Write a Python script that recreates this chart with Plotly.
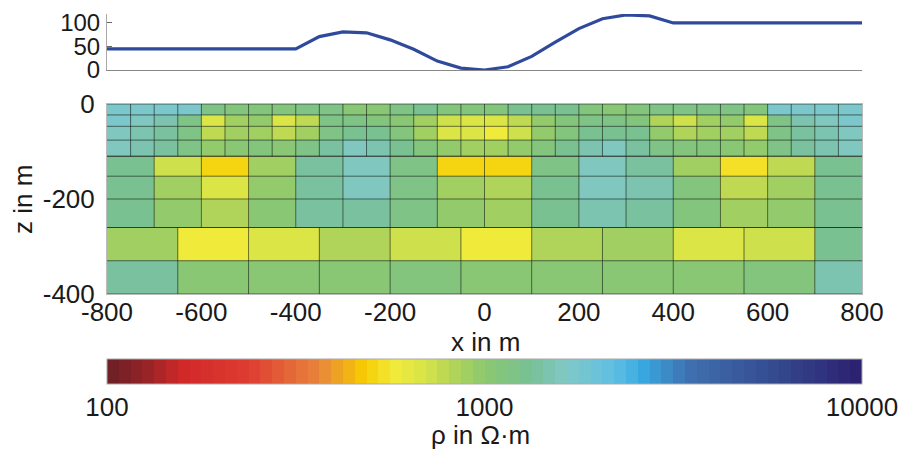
import plotly.graph_objects as go
from plotly.subplots import make_subplots

# ---------------- data ----------------
# topography profile
prof_x = [-800, -400, -350, -300, -250, -200, -150, -100, -50, 0, 50, 100, 150, 200, 250, 300, 350, 400, 800]
prof_h = [45, 45, 71, 81, 79, 64, 44, 19, 4, 0, 7, 29, 59, 88, 109, 117, 115, 100, 100]

# mesh block A: 4 thin layers, 50 m columns  (log10 resistivity)
a_xedges = list(range(-800, 801, 50))
a_zedges = [0, -23, -47, -76, -110]
a_vals = [
    [3.22, 3.22, 3.22, 3.22, 3.08, 3.05, 3.05, 3.05, 3.08, 3.08, 3.00, 3.00, 3.08, 3.10, 3.05, 3.05,
     3.04, 3.12, 3.12, 3.12, 3.04, 3.02, 3.05, 3.08, 3.08, 3.08, 3.08, 3.04, 3.22, 3.22, 3.22, 3.22],
    [3.22, 3.20, 3.16, 3.08, 2.83, 2.96, 2.98, 2.83, 2.90, 3.08, 3.08, 3.06, 3.03, 2.95, 2.85, 2.84,
     2.82, 2.88, 2.98, 3.04, 3.08, 3.07, 3.04, 2.92, 2.85, 2.96, 2.98, 2.82, 3.08, 3.16, 3.20, 3.22],
    [3.20, 3.18, 3.14, 3.08, 2.90, 2.96, 2.96, 2.88, 2.96, 3.08, 3.12, 3.10, 3.04, 2.96, 2.84, 2.82,
     2.78, 2.85, 2.99, 3.04, 3.12, 3.12, 3.10, 2.98, 2.92, 2.96, 2.96, 2.88, 3.08, 3.14, 3.18, 3.20],
    [3.20, 3.18, 3.15, 3.08, 2.98, 3.02, 3.06, 3.03, 3.08, 3.15, 3.20, 3.17, 3.12, 3.06, 2.99, 2.96,
     2.96, 2.99, 3.06, 3.12, 3.17, 3.20, 3.15, 3.08, 3.04, 3.06, 3.03, 2.98, 3.08, 3.15, 3.18, 3.20],
]

# mesh block B: 3 layers, 100 m columns
b_xedges = list(range(-800, 801, 100))
b_zedges = [-110, -152, -200, -260]
b_vals = [
    [3.10, 2.87, 2.70, 2.95, 3.14, 3.20, 3.08, 2.70, 2.70, 3.08, 3.20, 3.15, 2.96, 2.72, 2.88, 3.10],
    [3.10, 2.94, 2.84, 2.99, 3.15, 3.19, 3.08, 2.95, 2.93, 3.10, 3.20, 3.17, 3.04, 2.88, 2.95, 3.10],
    [3.12, 2.99, 2.92, 3.03, 3.14, 3.14, 3.08, 2.97, 2.95, 3.10, 3.18, 3.14, 3.04, 2.95, 2.99, 3.12],
]

# mesh block C: 2 deep layers, 150 m columns
c_xedges = [-800, -650, -500, -350, -200, -50, 100, 250, 400, 550, 700, 800]
c_zedges = [-260, -330, -400]
c_vals = [
    [2.96, 2.76, 2.82, 2.92, 2.85, 2.76, 2.92, 2.96, 2.82, 2.85, 3.12],
    [3.14, 3.03, 3.00, 3.03, 3.04, 3.03, 3.03, 3.03, 3.03, 3.05, 3.18],
]

x_ticks = [-800, -600, -400, -200, 0, 200, 400, 600, 800]
x_ticktext = ["-800", "-600", "-400", "-200", "0", "200", "400", "600", "800"]
z_ticks = [0, -200, -400]
z_ticktext = ["0", "-200", "-400"]
h_ticks = [0, 50, 100]
cb_tickvals = [2, 3, 4]
cb_ticktext = ["100", "1000", "10000"]

# ---------------- style ----------------
FONT = "Liberation Sans"
FS = 26
OFF = 8  # page offset of the plot div
W, H = 909, 456.0
anchors = [
    (0.00, "#6b1f24"), (0.05, "#922428"), (0.10, "#d12828"), (0.19, "#de3e32"),
    (0.28, "#e8843c"), (0.34, "#f6cc00"), (0.38, "#f2ea3a"), (0.42, "#d8e448"),
    (0.46, "#b0d458"), (0.50, "#8cc870"), (0.56, "#78c094"), (0.61, "#80c8c8"),
    (0.67, "#60c0e2"), (0.71, "#38a8e0"), (0.77, "#4070b0"), (0.88, "#344c90"),
    (1.00, "#2c1e70"),
]


def hex2rgb(h):
    h = h.lstrip("#")
    return [int(h[i:i + 2], 16) for i in (0, 2, 4)]


def interp(u):
    for (u0, c0), (u1, c1) in zip(anchors[:-1], anchors[1:]):
        if u0 <= u <= u1:
            f = (u - u0) / (u1 - u0)
            a, b = hex2rgb(c0), hex2rgb(c1)
            return "rgb(%d,%d,%d)" % tuple(round(a[k] + f * (b[k] - a[k])) for k in range(3))
    return anchors[-1][1]


def py(screen_y):
    """paper fraction for a screen pixel row"""
    return 1 - (screen_y - OFF) / H


L = 107 - OFF
R = W - (862 - OFF)


def px(screen_x):
    """paper fraction for a screen pixel column"""
    return (screen_x - OFF - L) / (W - L - R)


NB = 64
colorscale = []
for i in range(NB):
    c = interp((i + 0.5) / NB)
    colorscale.append([i / NB, c])
    colorscale.append([(i + 1) / NB, c])

fig = make_subplots(rows=2, cols=1)

fig.add_trace(go.Scatter(x=prof_x, y=prof_h, mode="lines",
                         line=dict(color="#2f4a9c", width=3.2), showlegend=False,
                         hoverinfo="skip"), row=1, col=1)

grid_x, grid_y = [], []
for xe, ze, vals in [(a_xedges, a_zedges, a_vals), (b_xedges, b_zedges, b_vals),
                     (c_xedges, c_zedges, c_vals)]:
    fig.add_trace(go.Heatmap(x=xe, y=ze[::-1], z=vals[::-1], coloraxis="coloraxis",
                             zsmooth=False, hoverinfo="skip"), row=2, col=1)
    for z in ze:
        grid_x += [xe[0], xe[-1], None]
        grid_y += [z, z, None]
    for x in xe[1:-1]:
        grid_x += [x, x, None]
        grid_y += [ze[0], ze[-1], None]

fig.add_trace(go.Scatter(x=grid_x, y=grid_y, mode="lines",
                         line=dict(color="rgba(20,30,20,0.6)", width=1),
                         showlegend=False, hoverinfo="skip"), row=2, col=1)

fig.update_layout(
    width=W, height=H,
    margin=dict(l=L, r=R, t=0, b=0, autoexpand=False),
    paper_bgcolor="white", plot_bgcolor="white",
    font=dict(family=FONT, size=FS, color="#1a1a1a"),
    showlegend=False,
    coloraxis=dict(
        colorscale=colorscale, cmin=2, cmax=4,
        colorbar=dict(
            orientation="h", lenmode="pixels", len=755, thickness=25,
            x=0.5, xanchor="center", y=py(359), yanchor="top",
            xpad=0, ypad=0, outlinecolor="#aaaaaa", outlinewidth=1,
            tickvals=cb_tickvals, ticktext=cb_ticktext, ticks="",
            tickfont=dict(family=FONT, size=FS),
        ),
    ),
    annotations=[
        dict(text="x in m", xref="paper", x=px(485), yref="paper", y=py(342),
             xanchor="center", yanchor="middle", showarrow=False,
             font=dict(family=FONT, size=FS)),
        dict(text="z in m", xref="paper", x=px(23), yref="paper", y=py(200),
             xanchor="center", yanchor="middle", showarrow=False, textangle=-90,
             font=dict(family=FONT, size=FS)),
        dict(text="ρ in Ω·m", xref="paper", x=px(480), yref="paper", y=py(435),
             xanchor="center", yanchor="middle", showarrow=False,
             font=dict(family=FONT, size=FS)),
    ],
    shapes=[dict(type="line", xref="paper", yref="paper", x0=px(484.5), x1=px(484.5),
                 y0=py(360), y1=py(383), line=dict(color="rgba(40,110,40,0.8)",
                                                   width=1, dash="dash"))],
)

fig.update_xaxes(row=1, col=1, range=[-800, 800], showticklabels=False, ticks="",
                 showgrid=False, zeroline=False, showline=True, linecolor="#888888",
                 linewidth=1)
fig.update_yaxes(row=1, col=1, domain=[py(70), py(14)], range=[0, 119],
                 tickvals=h_ticks, ticks="inside", ticklen=5, tickcolor="#666666",
                 tickfont=dict(size=24),
                 showgrid=False, zeroline=False, showline=True, linecolor="#aaaaaa",
                 linewidth=1, ticklabelstandoff=1)

fig.update_xaxes(row=2, col=1, range=[-800, 800], tickvals=x_ticks, ticktext=x_ticktext,
                 ticks="", showgrid=False, zeroline=False, showline=True, mirror=True,
                 linecolor="#bbbbbb", linewidth=1, ticklabelstandoff=-5)
fig.update_yaxes(row=2, col=1, domain=[py(294), py(104)], range=[-400, 0],
                 tickvals=z_ticks, ticktext=z_ticktext, ticks="", showgrid=False,
                 zeroline=False, showline=True, mirror=True, linecolor="#bbbbbb",
                 linewidth=1, ticklabelstandoff=6)

fig.write_html("out.html")
